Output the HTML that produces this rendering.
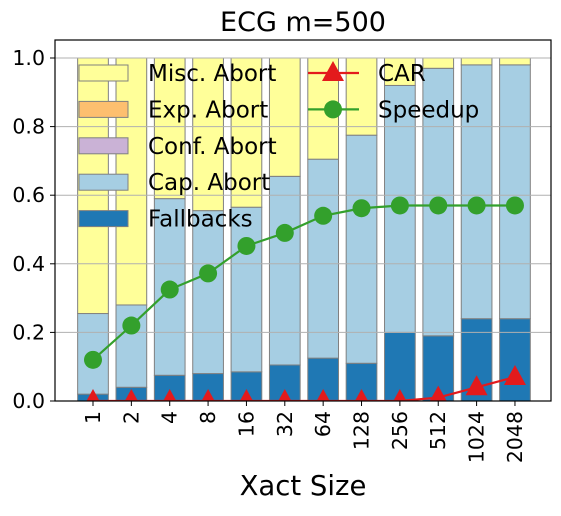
<!DOCTYPE html>
<html><head><meta charset="utf-8"><style>
body{margin:0;background:#fff;font-family:"Liberation Sans","DejaVu Sans",sans-serif}
svg text{font-family:"DejaVu Sans","Liberation Sans",sans-serif}
</style></head><body>
<svg id="c" width="561" height="511" xmlns="http://www.w3.org/2000/svg"><defs><clipPath id="clip"><rect x="55" y="40" width="496" height="361"/></clipPath></defs></svg>
<script>
const categories=["1","2","4","8","16","32","64","128","256","512","1024","2048"];
const fallbacks=[0.02,0.04,0.075,0.08,0.085,0.105,0.125,0.11,0.2,0.19,0.24,0.24];
const capTop=[0.255,0.28,0.59,0.555,0.565,0.655,0.705,0.775,0.92,0.97,0.98,0.98];
const confTop=[0.255,0.28,0.59,0.555,0.565,0.655,0.705,0.775,0.92,0.97,0.98,0.98];
const expTop=[0.255,0.28,0.59,0.555,0.565,0.655,0.705,0.775,0.92,0.97,0.98,0.98];
const miscTop=[1,1,1,1,1,1,1,1,1,1,1,1];
const speedup=[0.12,0.22,0.325,0.372,0.452,0.49,0.54,0.562,0.57,0.57,0.57,0.57];
const car=[0,0,0,0,0,0,0,0,0,0.01,0.04,0.07];
const yTicks=[0,0.2,0.4,0.6,0.8,1.0];
const yTickLabels=["0.0","0.2","0.4","0.6","0.8","1.0"];

const svg=document.getElementById('c');const NS='http://www.w3.org/2000/svg';
function mk(t,a,p){const e=document.createElementNS(NS,t);for(const k in a)e.setAttribute(k,a[k]);(p||svg).appendChild(e);return e;}
const L=55,R=551,T=40,B=401;
const x=i=>93+i*38.36;
const y=v=>B-v*343;
const bw=30.7;
// bars
const segs=[[null,fallbacks,'#1f78b4','fallbacks'],[fallbacks,capTop,'#a6cee3','cap-abort'],[capTop,confTop,'#cab2d6','conf-abort'],[confTop,expTop,'#fdbf6f','exp-abort'],[expTop,miscTop,'#ffff99','misc-abort']];
segs.forEach(s=>{categories.forEach((c,i)=>{const lo=s[0]?s[0][i]:0,hi=s[1][i];if(hi-lo<=0)return;
const r=mk('rect',{x:x(i)-bw/2,y:y(hi),width:bw,height:y(lo)-y(hi),fill:s[2],stroke:'#808080','stroke-width':1});

});});
// grid over bars
yTicks.forEach((v,i)=>{const g=mk('line',{x1:L,x2:R,y1:y(v),y2:y(v),stroke:'#b0b0b0','stroke-width':1});

mk('line',{x1:L-5,x2:L,y1:y(v),y2:y(v),stroke:'#000'});
const t=mk('text',{x:L-10,y:y(v)+7,'text-anchor':'end','font-size':20.5});t.textContent=yTickLabels[i];
});
// lines
const cg=mk('g',{'clip-path':'url(#clip)'});
function series(vals,col,name,marker){
const pts=vals.map((v,i)=>x(i)+','+y(v)).join(' ');
const pl=mk('polyline',{points:pts,fill:'none',stroke:col,'stroke-width':2.2},cg);

vals.forEach((v,i)=>{let m;
if(marker==='c'){m=mk('circle',{cx:x(i),cy:y(v),r:9,fill:col},cg);}
else{const cx=x(i),cy=y(v);m=mk('polygon',{points:`${cx},${cy-12} ${cx-11},${cy+8} ${cx+11},${cy+8}`,fill:col},cg);}
});}
series(car,'#e31a1c','car','t');
series(speedup,'#33a02c','speedup','c');
// axes frame
const fr=mk('rect',{x:L,y:T,width:R-L,height:B-T,fill:'none',stroke:'#000','stroke-width':1.2});

// x ticks
categories.forEach((c,i)=>{mk('line',{x1:x(i),x2:x(i),y1:B,y2:B+5,stroke:'#000'});
const t=mk('text',{x:0,y:0,'text-anchor':'end','font-size':20.5,transform:`translate(${x(i)+7},${B+10}) rotate(-90)`});t.textContent=c;
});
// legend
const lg=mk('g',{});
const rows=[['Misc. Abort','#ffff99'],['Exp. Abort','#fdbf6f'],['Conf. Abort','#cab2d6'],['Cap. Abort','#a6cee3'],['Fallbacks','#1f78b4']];
rows.forEach((r,i)=>{const yy=73+i*36.4;
mk('rect',{x:79,y:yy-8,width:49,height:16,fill:r[1],stroke:'#808080'},lg);
const t=mk('text',{x:148,y:yy+8,'font-size':23},lg);t.textContent=r[0];
});
[['CAR','#e31a1c','t'],['Speedup','#33a02c','c']].forEach((r,i)=>{const yy=73+i*36.4;
mk('line',{x1:308,x2:359,y1:yy,y2:yy,stroke:r[1],'stroke-width':2.2},lg);
if(r[2]==='c')mk('circle',{cx:333,cy:yy,r:9,fill:r[1]},lg);
else mk('polygon',{points:`333,${yy-12} 322,${yy+8} 344,${yy+8}`,fill:r[1]},lg);
const t=mk('text',{x:378,y:yy+8,'font-size':23},lg);t.textContent=r[0];
});
// titles
const ti=mk('text',{x:303,y:31,'text-anchor':'middle','font-size':27});ti.textContent='ECG m=500';

const xl=mk('text',{x:303,y:495,'text-anchor':'middle','font-size':27.5});xl.textContent='Xact Size';

</script>
</body></html>
